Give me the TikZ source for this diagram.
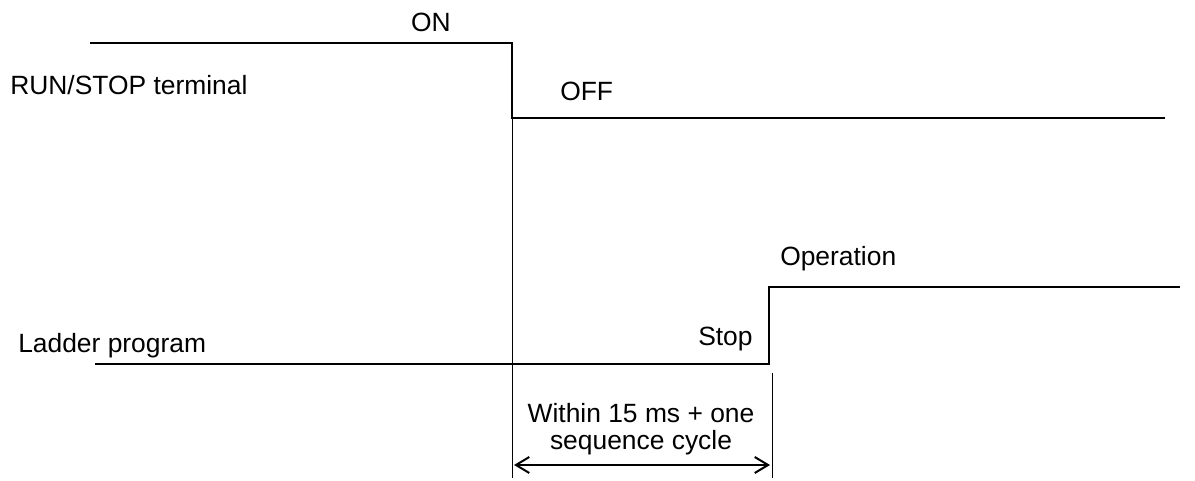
\documentclass[tikz,border=0pt]{standalone}
\usepackage{fontspec}
\setmainfont{Liberation Sans}
\usetikzlibrary{arrows.meta}

\begin{document}
\begin{tikzpicture}[x=0.75pt, y=-0.75pt, >={Straight Barb[length=10pt, width=12pt]},
    font=\fontsize{19.8}{20.25}\selectfont]
  \useasboundingbox (0,0) rectangle (1195,481);

  % RUN/STOP terminal signal
  \coordinate (T0) at (90,43);
  \coordinate (T1) at (512,43);
  \coordinate (T2) at (512,118);
  \coordinate (T3) at (1165,118);

  % ladder program signal
  \coordinate (L0) at (95,364);
  \coordinate (L1) at (769,364);
  \coordinate (L2) at (769,287);
  \coordinate (L3) at (1180,287);

  % time marks
  \coordinate (M0) at (512,478);
  \coordinate (M1) at (772,373);
  \coordinate (M2) at (772,478);
  \coordinate (A0) at (514,465);
  \coordinate (A1) at (770,465);

  \draw[line width=1.6pt] (T0) -- (T1) -- (T2) -- (T3);
  \draw[line width=1.6pt] (L0) -- (L1) -- (L2) -- (L3);
  \draw[line width=0.6pt] (T2) -- (M0);
  \draw[line width=0.6pt] (M1) -- (M2);
  \draw[<->, line width=1.5pt] (A0) -- (A1);

  \node[anchor=base west, inner sep=0] (run) at (10,95) {RUN/STOP terminal};
  \node[anchor=base, inner sep=0] (on) at (431,32) {ON};
  \node[anchor=base west, inner sep=0] (off) at (560,101) {OFF};
  \node[anchor=base west, inner sep=0] (ladder) at (18,352) {Ladder program};
  \node[anchor=base west, inner sep=0] (stop) at (698,345) {Stop};
  \node[anchor=base west, inner sep=0] (oper) at (780,265) {Operation};
  \node[anchor=south, align=center, inner sep=0] (delay) at (641,455)
    {Within 15 ms + one\\sequence cycle};
\end{tikzpicture}
\end{document}
